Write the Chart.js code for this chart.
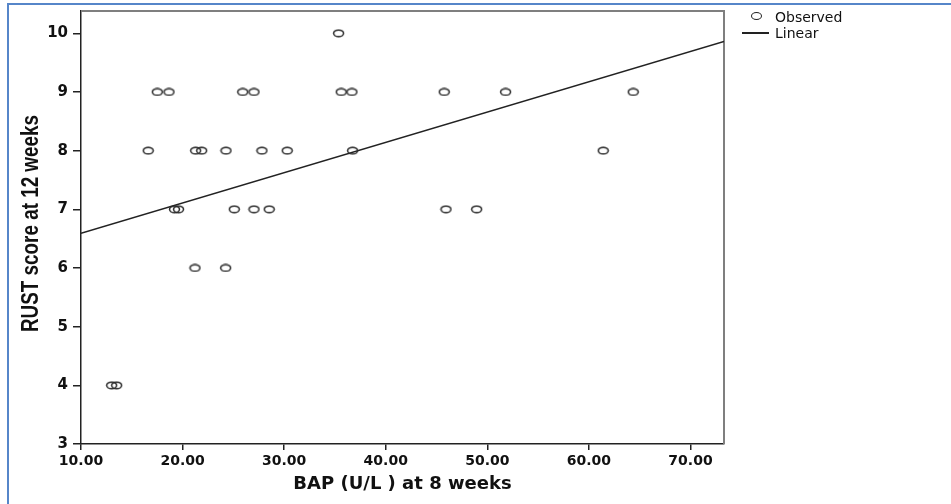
<!DOCTYPE html>
<html>
<head>
<meta charset="utf-8">
<script src="https://cdn.jsdelivr.net/npm/chart.js@4/dist/chart.umd.min.js"></script>
<style>
  html, body { margin: 0; padding: 0; background: #ffffff; }
  #wrap { position: relative; width: 951px; height: 504px; overflow: hidden; background: #ffffff; }
  #frame { position: absolute; left: 7px; top: 3px; width: 1000px; height: 600px; border-left: 2px solid #5686c9; border-top: 2px solid #5686c9; }
  #c { position: absolute; left: 0; top: 0; }
  .lg { position: absolute; font-family: 'DejaVu Sans', sans-serif; font-size: 14px; color: #111; line-height: 14px; white-space: nowrap; }
  #lgCircle { position: absolute; left: 751px; top: 12px; width: 9px; height: 6px; border: 1.4px solid #222; border-radius: 50%; }
  #lgLine { position: absolute; left: 742px; top: 32px; width: 27px; height: 1.5px; background: #222; }
</style>
</head>
<body>
<div id="wrap">
  <div id="frame"></div>
  <canvas id="c" width="951" height="504"></canvas>
  <div id="lgCircle"></div>
  <div class="lg" style="left:775px; top:10px;">Observed</div>
  <div id="lgLine"></div>
  <div class="lg" style="left:775px; top:26px;">Linear</div>
</div>
<script>
// ---- data ----
const xObserved = [13.02, 13.51,
                   21.22, 24.24,
                   19.20, 19.60, 25.09, 27.03, 28.53, 45.93, 48.95,
                   16.62, 21.29, 21.88, 24.27, 27.81, 30.30, 36.74, 61.41,
                   17.51, 18.66, 25.92, 27.03, 35.62, 36.67, 45.76, 51.80, 64.36,
                   35.36];
const yObserved = [4, 4,
                   6, 6,
                   7, 7, 7, 7, 7, 7, 7,
                   8, 8, 8, 8, 8, 8, 8, 8,
                   9, 9, 9, 9, 9, 9, 9, 9, 9,
                   10];
const lineX = [10, 73.3];
const lineY = [6.59, 9.86];
const xTicks = [10, 20, 30, 40, 50, 60, 70];
const yTicks = [3, 4, 5, 6, 7, 8, 9, 10];
const xRange = [10, 73.3];
const yRange = [3, 10.38];
const xTitle = 'BAP (U/L ) at 8 weeks';
const yTitle = 'RUST score at 12 weeks';

// elliptical open marker (reference is horizontally stretched)
const marker = document.createElement('canvas');
marker.width = 13; marker.height = 9;
(function () {
  const m = marker.getContext('2d');
  m.strokeStyle = '#2a2a2a';
  m.lineWidth = 1.5;
  m.beginPath();
  m.ellipse(6.5, 4.5, 5, 3.3, 0, 0, Math.PI * 2);
  m.stroke();
})();

const frameLines = {
  id: 'frameLines',
  beforeDatasetsDraw(chart) {
    const { ctx, chartArea: a } = chart;
    ctx.save();
    ctx.strokeStyle = '#7f7f7f';
    ctx.lineWidth = 2;
    ctx.beginPath();
    ctx.moveTo(a.left, a.top);
    ctx.lineTo(a.right, a.top);
    ctx.lineTo(a.right, a.bottom);
    ctx.stroke();
    ctx.restore();
  }
};

// y-axis title drawn in a narrow (compressed) face, like the reference
const yTitlePlugin = {
  id: 'yTitlePlugin',
  afterDraw(chart) {
    const { ctx, chartArea: a } = chart;
    ctx.save();
    ctx.translate(32, (a.top + a.bottom) / 2 - 4);
    ctx.rotate(-Math.PI / 2);
    ctx.scale(0.82, 1);
    ctx.font = "bold 23px 'Liberation Sans', Arial, sans-serif";
    ctx.fillStyle = '#111';
    ctx.textAlign = 'center';
    ctx.textBaseline = 'middle';
    ctx.fillText(yTitle, 0, 0);
    ctx.restore();
  }
};

new Chart(document.getElementById('c'), {
  type: 'scatter',
  data: {
    datasets: [
      {
        label: 'Observed',
        data: xObserved.map((x, i) => ({ x: x, y: yObserved[i] })),
        pointStyle: marker,
        pointRadius: 5,
        showLine: false
      },
      {
        label: 'Linear',
        type: 'line',
        data: lineX.map((x, i) => ({ x: x, y: lineY[i] })),
        borderColor: '#222',
        borderWidth: 1.5,
        pointRadius: 0,
        fill: false
      }
    ]
  },
  options: {
    responsive: false,
    animation: false,
    devicePixelRatio: 1,
    layout: { padding: { left: 0, top: 11, right: 227, bottom: 0 } },
    plugins: { legend: { display: false }, tooltip: { enabled: false } },
    scales: {
      x: {
        type: 'linear',
        min: xRange[0], max: xRange[1],
        afterBuildTicks: s => { s.ticks = xTicks.map(v => ({ value: v })); },
        afterFit: s => { s.height = 60; s.paddingLeft = 0; s.paddingRight = 0; },
        ticks: {
          callback: v => Number(v).toFixed(2),
          color: '#111',
          padding: 3,
          maxRotation: 0,
          autoSkip: false,
          font: { family: "'DejaVu Sans', sans-serif", size: 14, weight: 'bold' }
        },
        grid: { display: true, drawOnChartArea: false, drawTicks: true, tickLength: 6, color: '#222', lineWidth: 1.5 },
        border: { display: true, color: '#222', width: 1.5 },
        title: {
          display: true, text: xTitle, color: '#111',
          padding: { top: 0, bottom: 9 },
          font: { family: "'DejaVu Sans', sans-serif", size: 18, weight: 'bold' }
        }
      },
      y: {
        type: 'linear',
        min: yRange[0], max: yRange[1],
        afterBuildTicks: s => { s.ticks = yTicks.map(v => ({ value: v })); },
        afterFit: s => { s.width = 81; s.paddingTop = 0; s.paddingBottom = 0; },
        ticks: {
          color: '#111',
          padding: 5,
          autoSkip: false,
          font: { family: "'DejaVu Sans', sans-serif", size: 15, weight: 'bold' }
        },
        grid: { display: true, drawOnChartArea: false, drawTicks: true, tickLength: 8, color: '#222', lineWidth: 1.5 },
        border: { display: true, color: '#222', width: 1.5 },
        title: { display: false }
      }
    }
  },
  plugins: [frameLines, yTitlePlugin]
});
</script>
</body>
</html>
